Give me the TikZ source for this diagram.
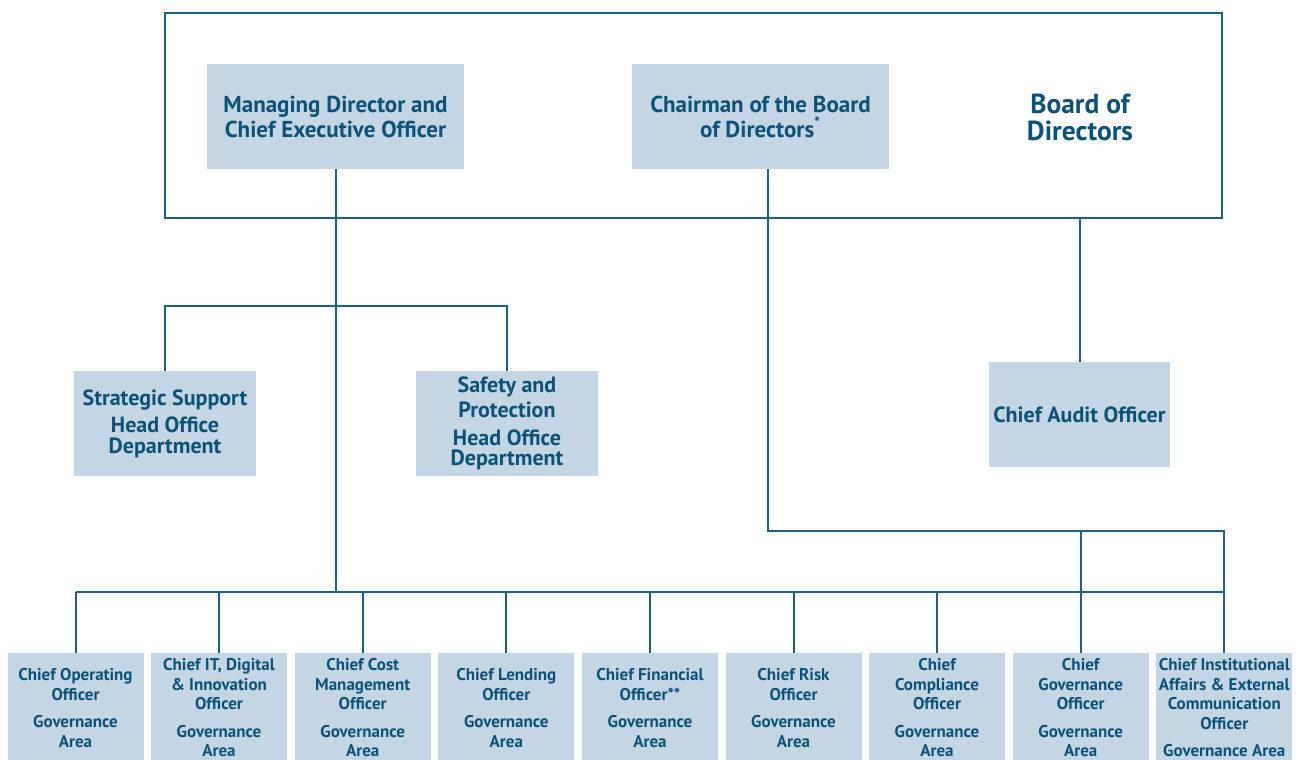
\documentclass[tikz,border=0pt]{standalone}
\usepackage{fontspec}
\setmainfont{PT Sans}
\usetikzlibrary{positioning}
\definecolor{boxfill}{HTML}{C4D5E3}
\definecolor{textblue}{HTML}{0B5278}
\definecolor{lineblue}{HTML}{1E5F82}
\newcommand{\topfont}{\fontsize{23}{25}\selectfont\bfseries}
\newcommand{\midfont}{\fontsize{22}{25}\selectfont\bfseries}
\newcommand{\boardfont}{\fontsize{27.5}{27}\selectfont\bfseries}
\newcommand{\rowfont}{\fontsize{17}{19.5}\selectfont\bfseries}
\tikzset{
	orgbox/.style={fill=boxfill, text=textblue, align=center, inner sep=0pt},
	topbox/.style={orgbox, font=\topfont, minimum width=257, minimum height=105},
	midbox/.style={orgbox, font=\midfont, minimum width=182, minimum height=105},
	rowbox/.style={orgbox, font=\rowfont, minimum width=136, minimum height=110},
	orgline/.style={draw=lineblue, line width=2pt},
}

\begin{document}
\begin{tikzpicture}[x=1pt,y=-1pt]
				\useasboundingbox (0,0) rectangle (1304,760);
				
				\node[draw=lineblue, line width=2pt, minimum width=1057, minimum height=205, inner sep=0pt] (board) at (693.5,115.5) {};
				\node[text=textblue, font=\boardfont, align=center] (boardlbl) at (1080,117) {Board of\\Directors};
				
				\node[topbox] (ceo) at (335.5,116.5) {Managing Director and\\Chief Executive Officer};
				\node[topbox] (chair) at (760.5,116.5) {Chairman of the Board\\of Directors\textsuperscript{*}};
				
				\node[midbox] (strat) at (165,423.5) {Strategic Support\\[2pt]Head Office\\[-4pt]Department};
				\node[midbox] (safe) at (507,423.5) {Safety and\\Protection\\[3pt]Head Office\\[-5pt]Department};
				\node[midbox, minimum width=181] (audit) at (1079.5,414.5) {Chief Audit Officer};
				
				\node[rowbox] (coo) at (75.5,708) {Chief Operating\\Officer\\[8pt]Governance\\Area};
				\node[rowbox] (cio) at (219,708) {Chief IT, Digital\\\& Innovation\\Officer\\[8pt]Governance\\Area};
				\node[rowbox] (cco) at (362.7,708) {Chief Cost\\Management\\Officer\\[8pt]Governance\\Area};
				\node[rowbox] (clo) at (506.3,708) {Chief Lending\\Officer\\[8pt]Governance\\Area};
				\node[rowbox] (cfo) at (650,708) {Chief Financial\\Officer**\\[8pt]Governance\\Area};
				\node[rowbox] (cro) at (793.5,708) {Chief Risk\\Officer\\[8pt]Governance\\Area};
				\node[rowbox] (cmp) at (937,708) {Chief\\Compliance\\Officer\\[8pt]Governance\\Area};
				\node[rowbox] (cgo) at (1080.7,708) {Chief\\Governance\\Officer\\[8pt]Governance\\Area};
				\node[rowbox] (cia) at (1224.3,708) {Chief Institutional\\Affairs \& External\\Communication\\Officer\\[8pt]Governance Area};
				
				\coordinate (split) at (335.5,305.5);
				\coordinate (bus) at (75.5,592);
				\coordinate (link) at (1224.3,530.5);
				
				\draw[orgline] (ceo.south) -- (ceo.south |- bus);
				\draw[orgline] (strat.north) |- (split) -| (safe.north);
				\draw[orgline] (board.south -| audit.north) -- (audit.north);
				\draw[orgline] ([xshift=7.5]chair.south) |- (link) -- (cia.north);
				\draw[orgline] (cgo.north |- link) -- (cgo.north);
				
				\draw[orgline] (coo.north |- bus) -- (cia.north |- bus);
				\draw[orgline] (coo.north) -- (coo.north |- bus);
				\draw[orgline] (cio.north) -- (cio.north |- bus);
				\draw[orgline] (cco.north) -- (cco.north |- bus);
				\draw[orgline] (clo.north) -- (clo.north |- bus);
				\draw[orgline] (cfo.north) -- (cfo.north |- bus);
				\draw[orgline] (cro.north) -- (cro.north |- bus);
				\draw[orgline] (cmp.north) -- (cmp.north |- bus);
			\end{tikzpicture}
\end{document}
